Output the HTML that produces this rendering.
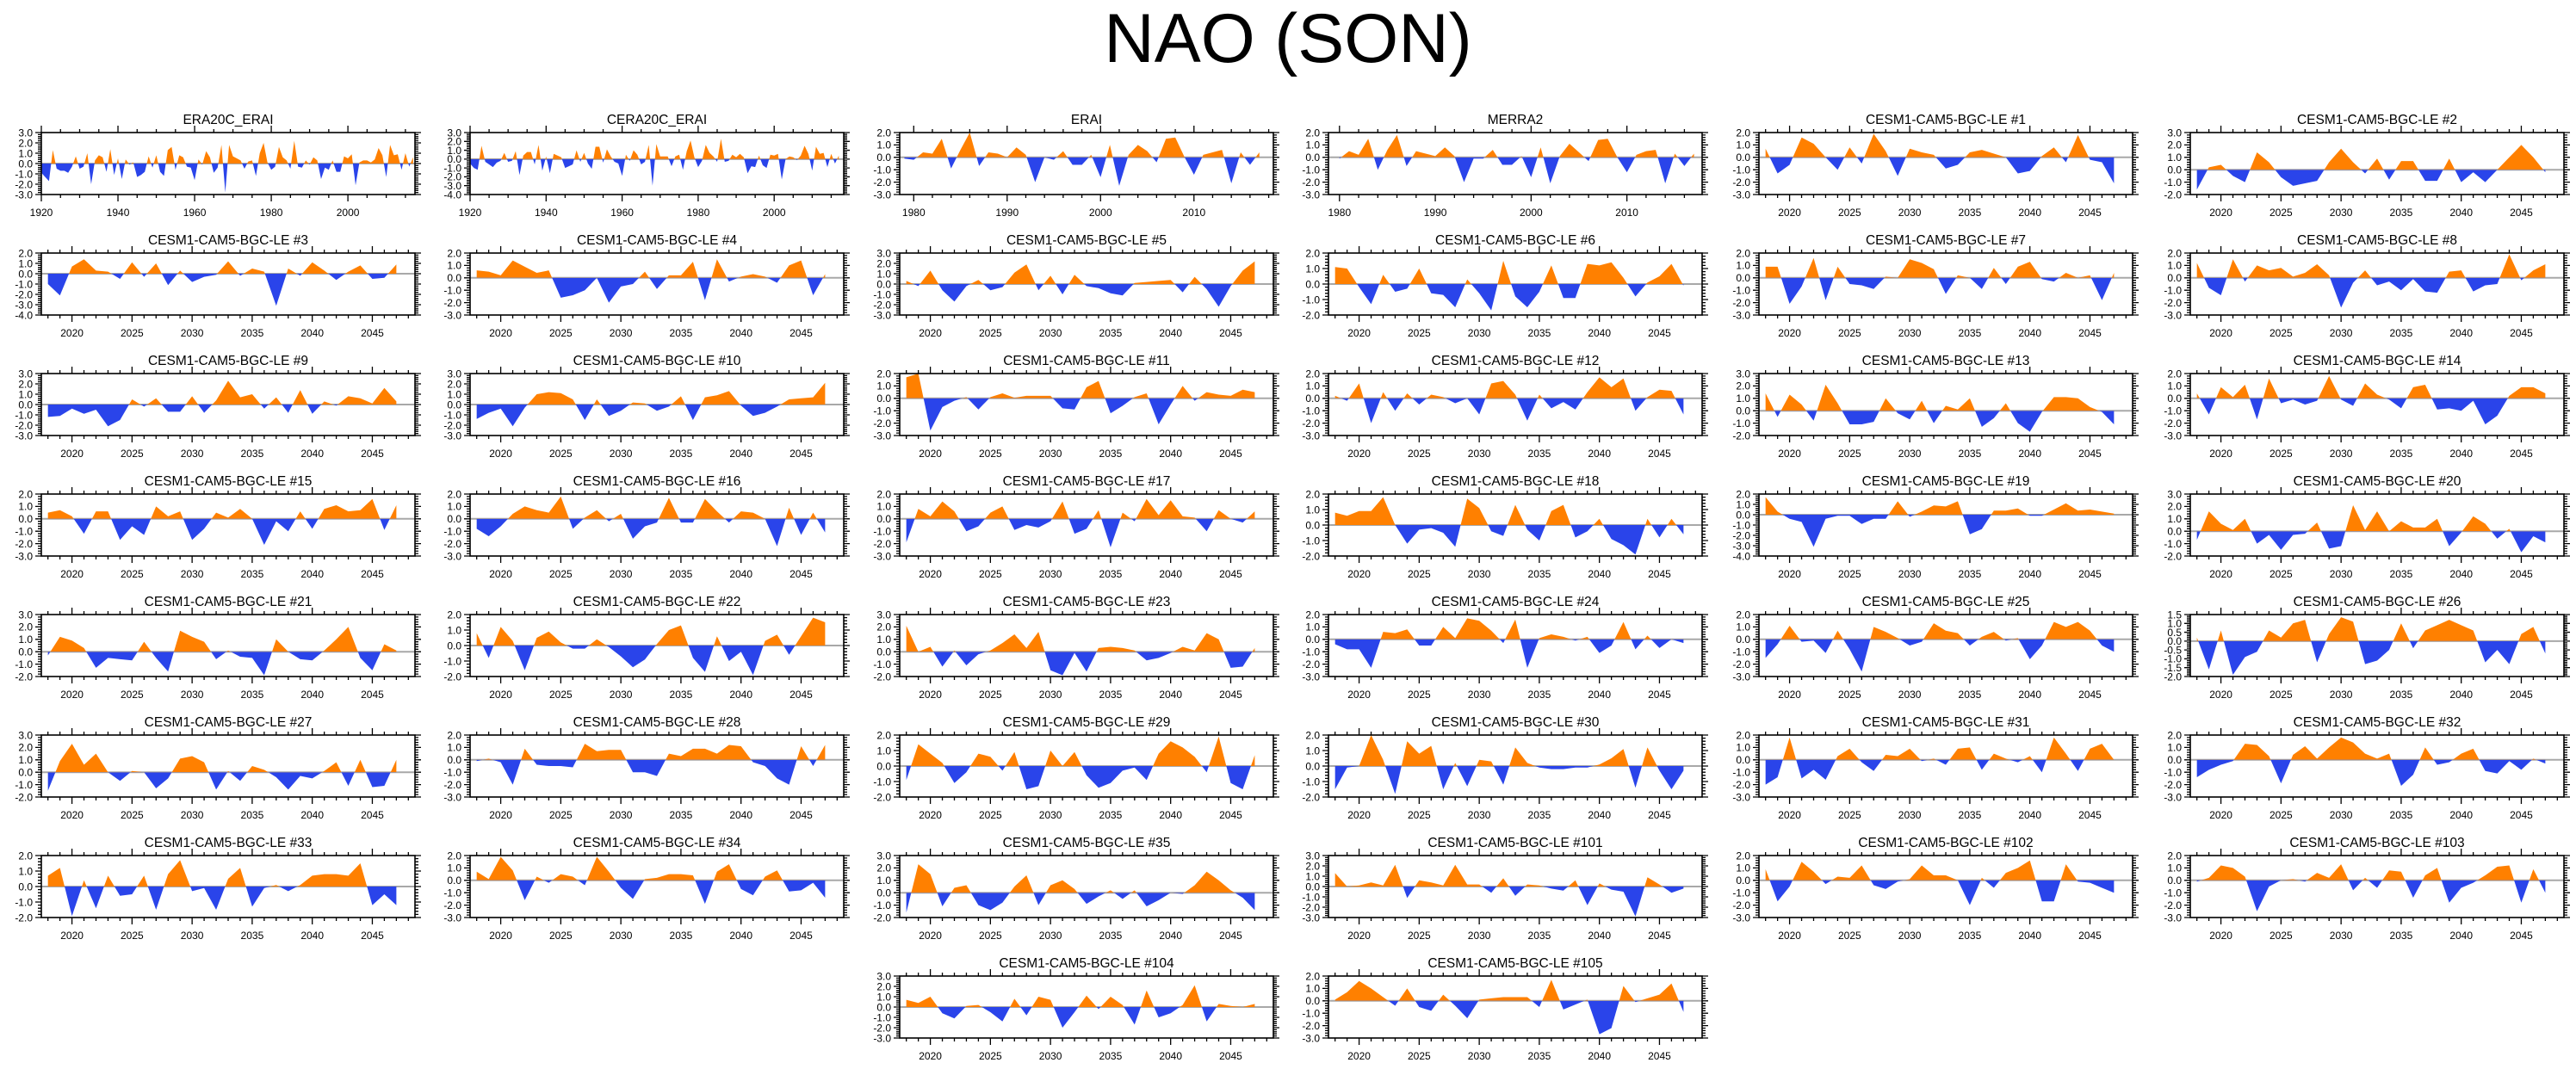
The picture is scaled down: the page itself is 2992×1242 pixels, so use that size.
<!DOCTYPE html>
<html><head><meta charset="utf-8"><title>NAO (SON)</title>
<style>
html,body{margin:0;padding:0;background:#fff;}
svg{display:block;font-family:"Liberation Sans",Arial,sans-serif;}
</style></head>
<body>
<svg id="chart" width="2992" height="1242" viewBox="0 0 2992 1242" xmlns="http://www.w3.org/2000/svg">
<rect x="0" y="0" width="2992" height="1242" fill="#fff"/>
<text x="1496" y="72" text-anchor="middle" font-size="81" fill="#000">NAO (SON)</text>
</svg>
<script>
const panelTitles = ["ERA20C_ERAI","CERA20C_ERAI","ERAI","MERRA2",
"CESM1-CAM5-BGC-LE #1","CESM1-CAM5-BGC-LE #2","CESM1-CAM5-BGC-LE #3","CESM1-CAM5-BGC-LE #4","CESM1-CAM5-BGC-LE #5","CESM1-CAM5-BGC-LE #6","CESM1-CAM5-BGC-LE #7","CESM1-CAM5-BGC-LE #8","CESM1-CAM5-BGC-LE #9","CESM1-CAM5-BGC-LE #10","CESM1-CAM5-BGC-LE #11","CESM1-CAM5-BGC-LE #12","CESM1-CAM5-BGC-LE #13","CESM1-CAM5-BGC-LE #14","CESM1-CAM5-BGC-LE #15","CESM1-CAM5-BGC-LE #16","CESM1-CAM5-BGC-LE #17","CESM1-CAM5-BGC-LE #18","CESM1-CAM5-BGC-LE #19","CESM1-CAM5-BGC-LE #20","CESM1-CAM5-BGC-LE #21","CESM1-CAM5-BGC-LE #22","CESM1-CAM5-BGC-LE #23","CESM1-CAM5-BGC-LE #24","CESM1-CAM5-BGC-LE #25","CESM1-CAM5-BGC-LE #26","CESM1-CAM5-BGC-LE #27","CESM1-CAM5-BGC-LE #28","CESM1-CAM5-BGC-LE #29","CESM1-CAM5-BGC-LE #30","CESM1-CAM5-BGC-LE #31","CESM1-CAM5-BGC-LE #32","CESM1-CAM5-BGC-LE #33","CESM1-CAM5-BGC-LE #34","CESM1-CAM5-BGC-LE #35","CESM1-CAM5-BGC-LE #101","CESM1-CAM5-BGC-LE #102","CESM1-CAM5-BGC-LE #103","CESM1-CAM5-BGC-LE #104","CESM1-CAM5-BGC-LE #105"];
const yMins = [-3,-4,-3,-3,-3,-2, -4,-3,-3,-2,-3,-3, -3,-3,-3,-3,-2,-3, -3,-3,-3,-2,-4,-2, -2,-2,-2,-3,-3,-2, -2,-3,-2,-2,-3,-3, -2,-3,-2,-3,-3,-3, -3,-3];
const yMaxs = [3,3,2,2,2,3, 2,2,3,2,2,2, 3,3,2,2,3,2, 2,2,2,2,2,3, 3,2,3,2,2,1.5, 3,2,2,2,2,2, 2,2,3,3,2,2, 3,2];
const startYears = [1920,1920,1979,1980];
const modelStartYear = 2018;

const sERA20C = [-0.9,-1.3,-1.7,1.3,-0.5,-0.7,-0.7,-0.9,-0.3,0.7,-0.5,-0.3,1.0,-2.0,0.3,0.8,0.6,-0.8,1.4,-1.1,0.5,-1.5,0.4,-0.1,0.1,-1.3,-1.1,-0.8,0.7,-0.4,0.8,-0.8,-1.2,1.3,1.6,-0.6,0.8,0.6,-0.3,-0.4,-1.6,0.4,-0.1,1.2,0.6,-0.9,-0.4,1.8,-2.8,1.8,0.7,0.5,0.3,-0.5,0.2,0.3,-1.2,1.0,2.0,0.1,-0.6,-0.3,1.6,0.6,0.3,-0.5,2.2,-0.3,-0.4,0.3,-0.1,0.6,0.3,-1.5,-0.4,-0.6,0.3,-0.8,-0.8,0.7,0.5,0.9,-2.1,0.1,0.3,0.3,0.1,0.4,1.5,0.8,-1.3,1.8,0.8,0.9,-0.6,1.0,-0.3,0.6];
const sCERA20C = [-0.5,-1.0,-1.2,1.5,-0.3,-0.6,-0.9,-0.4,-0.2,0.7,-0.3,-0.2,0.9,-1.8,0.4,0.8,0.8,-0.6,1.6,-1.3,0.3,-1.6,0.6,0.4,0.2,-1.0,-0.8,-0.6,1.0,-0.3,0.7,-0.5,-1.1,1.4,1.4,-0.4,1.1,0.3,-0.3,-0.5,-1.9,0.5,-0.2,1.0,0.5,-0.6,-0.3,1.6,-3.0,1.7,0.3,0.3,0.3,-0.8,0.3,0.5,-1.2,0.9,2.1,0.2,-0.9,-0.2,1.6,0.7,0.3,-0.3,2.3,-0.3,-0.2,0.5,0.2,0.6,0.2,-1.6,-0.8,-0.9,0.4,-0.7,-1.0,0.5,0.4,0.6,-2.3,0.0,0.3,0.2,-0.1,0.4,1.5,0.6,-1.3,1.4,0.6,0.7,-0.9,0.6,-0.5,0.4];
const sERAI = [-0.1,-0.2,0.4,0.3,1.5,-0.9,0.6,2.0,-0.7,0.4,0.3,0.0,0.8,0.2,-2.0,0.0,-0.2,0.5,-0.6,-0.6,0.2,-1.6,1.0,-2.3,0.2,1.0,0.5,-0.4,1.5,1.6,0.0,-1.4,0.2,0.4,0.6,-2.1,0.4,-0.6,0.4];
const sMERRA2 = [-0.1,0.5,0.2,1.5,-1.0,0.6,1.8,-0.7,0.5,0.3,0.1,0.8,0.1,-2.0,-0.1,-0.1,0.6,-0.6,-0.6,0.1,-1.6,0.8,-2.1,0.1,1.1,0.4,-0.3,1.4,1.5,0.0,-1.2,0.2,0.5,0.6,-2.1,0.3,-0.7,0.3];
const m01 = [0.7,-1.3,-0.6,1.6,1.1,0.0,-1.0,0.8,-0.5,1.9,0.5,-1.5,0.7,0.4,0.2,-0.9,-0.6,0.4,0.6,0.3,0.0,-1.3,-1.1,0.1,0.8,-0.4,1.8,-0.2,-0.4,-2.1];
const m02 = [-1.6,0.2,0.4,-0.5,-1.0,1.4,0.6,-0.6,-1.3,-1.1,-0.9,0.6,1.7,0.6,-0.3,0.9,-0.8,0.7,0.7,-0.9,-0.9,0.9,-1.0,-0.2,-1.0,0.0,1.0,2.0,1.0,-0.2];
const m03 = [-1.0,-2.1,0.7,1.4,0.3,0.2,-0.5,1.1,-0.3,1.0,-1.1,0.3,-0.8,-0.3,-0.1,1.2,-0.2,0.5,0.2,-3.1,0.5,-0.2,1.1,0.3,-0.6,0.2,0.8,-0.5,-0.4,0.9];
const m04 = [0.6,0.5,0.2,1.4,0.9,0.4,0.6,-1.6,-1.4,-1.0,0.0,-2.0,-0.7,-0.5,0.5,-0.9,0.2,0.2,1.3,-1.8,1.5,-0.3,0.1,0.3,0.1,-0.4,1.0,1.4,-1.4,0.3];
const m05 = [0.3,-0.2,1.3,-0.6,-1.7,-0.2,0.4,-0.6,-0.3,1.1,1.9,-0.6,0.8,-1.0,0.9,-0.2,-0.4,-0.9,-1.1,0.1,0.2,0.3,0.4,-0.8,0.7,-0.5,-2.2,-0.2,1.3,2.2];
const m06 = [1.1,1.0,-0.2,-1.3,0.6,-0.5,-0.3,1.0,-0.6,-0.7,-1.5,0.3,-0.6,-1.7,1.5,-0.8,-1.5,-0.5,1.2,-0.9,-0.9,1.3,1.2,1.4,0.4,-0.8,0.1,0.5,1.3,-0.1];
const m07 = [0.9,0.9,-2.1,-0.7,1.6,-1.8,0.9,-0.5,-0.6,-0.9,0.1,0.0,1.5,1.2,0.7,-1.3,0.2,0.0,-0.9,0.8,-0.5,0.9,1.3,-0.1,-0.3,0.4,0.0,0.2,-1.8,0.4];
const m08 = [1.2,-0.8,-1.4,1.5,-0.3,1.0,0.6,0.8,0.1,0.4,1.1,0.2,-2.4,-0.4,0.6,-0.6,-0.3,-1.0,-0.1,-1.1,-1.2,0.5,0.6,-1.1,-0.6,-0.5,1.9,-0.2,0.6,1.1];
const m09 = [-1.2,-1.1,-0.4,-0.9,-0.5,-2.1,-1.5,0.5,-0.2,0.6,-0.7,-0.7,0.8,-0.8,0.4,2.3,0.7,1.0,-0.4,0.7,-0.8,1.4,-0.9,0.3,-0.1,0.8,0.6,0.1,1.6,0.3];
const m10 = [-1.4,-0.8,-0.4,-2.1,-0.3,1.0,1.2,1.1,0.5,-1.5,0.5,-1.1,-0.6,0.2,0.1,-0.6,-0.2,0.8,-1.5,0.7,0.9,1.3,-0.1,-1.1,-0.8,-0.2,0.5,0.6,0.7,2.1];
const m11 = [1.7,2.0,-2.6,-0.7,-0.2,0.1,-0.9,0.1,0.4,0.05,0.2,0.2,0.2,-0.8,-0.9,0.9,1.4,-1.2,-0.6,0.1,0.4,-2.1,-0.5,1.0,-0.2,0.5,0.3,0.2,0.7,0.5];
const m12 = [0.2,-0.2,1.2,-2.0,0.5,-1.0,0.4,-0.5,0.3,0.1,-0.4,0.0,-1.3,1.2,1.4,0.3,-1.8,0.3,-0.8,-0.3,-0.9,0.5,1.7,0.9,1.6,-1.0,0.1,0.7,0.6,-1.3];
const m13 = [1.4,-0.5,1.3,0.5,-0.8,2.1,0.6,-1.1,-1.1,-0.9,1.0,-0.2,-0.7,0.8,-1.0,0.4,0.1,1.0,-1.3,-0.6,0.6,-1.0,-1.7,-0.1,1.1,1.1,1.0,0.3,-0.1,-1.1];
const m14 = [0.4,-1.3,0.9,0.1,1.1,-1.7,1.6,-0.4,-0.1,-0.5,-0.2,1.8,-0.1,-0.6,1.2,0.3,-0.1,-0.8,0.9,1.1,-0.9,-0.8,-1.0,-0.2,-2.1,-1.4,0.2,0.9,0.9,0.4];
const m15 = [0.5,0.7,0.2,-1.2,0.6,0.6,-1.7,-0.6,-1.3,1.0,0.2,0.6,-1.7,-0.8,0.5,0.1,0.8,0.0,-2.1,-0.2,-1.0,0.6,-0.8,0.8,1.1,0.6,0.7,1.6,-0.9,1.1];
const m16 = [-0.8,-1.4,-0.6,0.4,1.0,0.7,0.5,1.8,-0.8,0.1,0.7,-0.2,0.4,-1.6,-0.6,-0.3,1.7,-0.3,-0.3,1.6,0.6,-0.3,0.6,0.5,0.0,-2.2,0.9,-1.3,0.5,-1.1];
const m17 = [-1.9,0.8,0.2,1.4,0.6,-1.0,-0.6,0.5,1.0,-0.9,-0.5,-0.7,-0.2,1.4,-1.2,-0.8,0.7,-2.3,0.5,-0.2,1.6,0.3,1.5,0.2,0.1,-1.0,0.7,0.0,-0.3,0.6];
const m18 = [0.8,0.6,0.9,0.9,1.8,0.0,-1.2,-0.3,-0.2,-0.5,-1.4,1.7,1.1,-0.4,-0.7,1.3,-0.3,-1.0,0.9,1.3,-0.8,-0.4,0.4,-0.9,-1.3,-1.9,0.4,-0.8,0.4,-0.6];
const m19 = [1.7,0.3,-0.4,-0.7,-3.1,-0.4,-0.1,-0.1,-0.9,-0.4,-0.4,1.3,-0.2,0.3,0.9,0.8,1.3,-1.9,-1.4,0.4,0.4,0.6,-0.1,-0.1,0.5,1.1,0.4,0.5,0.3,0.1];
const m20 = [-0.7,1.6,0.6,0.1,1.0,-1.0,-0.3,-1.5,-0.3,-0.2,0.7,-1.4,-1.2,2.1,0.1,1.6,0.0,0.8,0.3,0.3,1.0,-1.2,-0.1,1.2,0.6,-0.6,0.2,-1.7,-0.4,-0.9];
const m21 = [-0.3,1.2,0.9,0.3,-1.3,-0.5,-0.6,-0.7,0.8,-0.5,-1.6,1.7,1.2,0.8,-0.6,0.1,-0.4,-0.5,-1.9,1.0,0.0,-0.6,-0.7,0.1,1.0,2.0,-0.5,-1.5,0.6,0.1];
const m22 = [0.8,-0.8,1.2,0.3,-1.6,0.5,0.9,0.2,-0.2,-0.2,0.4,-0.1,-0.7,-1.4,-0.9,0.1,1.0,1.3,-0.8,-1.7,0.6,-1.0,-0.4,-1.9,0.3,0.7,-0.6,0.6,1.8,1.5];
const m23 = [2.1,0.0,0.4,-1.2,0.1,-1.1,-0.2,0.1,0.7,1.4,0.3,1.6,-1.5,-1.9,-0.1,-1.6,0.3,0.4,0.3,0.1,-0.7,-0.5,-0.1,0.4,0.1,1.5,1.0,-1.3,-1.2,0.3];
const m24 = [-0.4,-0.8,-0.8,-2.3,0.6,0.5,0.8,-0.5,-0.5,1.0,0.1,1.7,1.5,0.7,-0.3,1.6,-2.3,0.1,0.4,0.2,-0.1,0.2,-1.1,-0.5,1.4,-0.8,0.3,-0.7,0.0,-0.3];
const m25 = [-1.5,-0.4,1.1,-0.2,-0.1,-1.1,0.7,-0.8,-2.6,1.0,0.6,0.1,-0.5,-0.2,1.3,0.7,0.5,-0.5,0.2,0.6,-0.1,0.1,-1.6,-0.5,1.4,1.0,1.4,0.7,-0.5,-1.0];
const m26 = [0.2,-1.6,0.6,-1.9,-0.9,-0.6,0.6,0.2,1.0,1.2,-1.2,0.4,1.35,1.1,-1.3,-1.1,-0.5,1.0,-0.4,0.6,0.9,1.2,0.9,0.6,-1.2,-0.5,-1.3,0.4,0.8,-0.7];
const m27 = [-1.5,0.9,2.3,0.6,1.5,0.0,-0.7,0.1,0.0,-1.3,-0.5,1.1,1.3,0.8,-1.4,0.1,-0.7,0.5,0.2,-0.4,-1.4,-0.3,-0.5,0.1,0.8,-1.1,1.0,-1.2,-1.1,1.0];
const m28 = [-0.1,0.1,-0.2,-2.0,0.9,-0.4,-0.5,-0.5,-0.6,1.3,0.7,0.8,0.8,-1.0,-1.0,-1.3,0.5,0.3,0.9,0.9,0.5,1.2,1.1,-0.2,-0.5,-1.5,-2.0,1.1,-0.5,1.2];
const m29 = [-0.9,1.4,0.8,0.2,-1.1,-0.4,0.8,0.6,-0.3,0.9,-1.5,-1.3,1.0,0.0,0.9,-0.6,-1.4,-1.1,-0.3,-0.1,-0.9,0.8,1.6,1.2,0.6,-0.4,1.9,-1.1,-1.5,0.7];
const m30 = [-1.5,-0.1,0.0,2.0,0.4,-1.8,1.6,0.8,1.3,-1.5,0.2,-1.3,0.4,0.3,-1.2,1.2,0.2,-0.1,-0.2,-0.2,-0.1,-0.1,0.1,0.5,1.1,-1.4,1.2,-0.3,-1.5,-0.3];
const m31 = [-2.0,-1.4,1.8,-1.5,-0.8,-1.6,0.3,0.9,-0.2,-0.9,0.4,0.3,0.9,-0.1,0.1,-0.4,0.9,1.0,-0.8,0.5,0.1,-0.2,0.3,-1.0,1.8,0.5,-0.9,0.9,1.3,0.0];
const m32 = [-1.4,-0.8,-0.4,-0.1,1.3,1.2,0.3,-1.9,0.4,1.1,0.1,1.0,1.8,1.4,0.5,0.1,0.5,-2.1,-1.2,1.0,-0.4,-0.2,0.5,0.9,-0.9,-1.1,-0.1,-0.8,0.1,-0.3];
const m33 = [0.7,1.2,-1.9,0.4,-1.4,0.7,-0.6,-0.5,0.7,-1.5,0.8,1.7,-0.3,-0.1,-1.5,0.5,1.2,-1.3,-0.1,0.1,-0.3,0.1,0.7,0.8,0.8,0.7,1.5,-1.2,-0.5,-1.2];
const m34 = [0.7,0.1,1.9,0.8,-1.6,0.3,-0.2,0.5,0.3,-0.4,1.9,0.7,-0.6,-1.5,0.1,0.2,0.5,0.5,0.4,-1.9,0.7,1.3,-0.7,-1.2,0.3,0.8,-0.9,-0.8,-0.2,-1.4];
const m35 = [-1.6,2.3,1.5,-1.1,0.4,0.6,-1.0,-1.4,-0.8,0.5,1.4,-1.0,0.6,1.0,0.3,-0.9,-0.3,0.2,-0.5,0.2,-1.1,-0.6,0.0,-0.1,0.6,1.7,1.0,0.2,-0.4,-1.4];
const m101 = [1.3,0.0,0.1,0.4,0.1,2.1,-1.1,0.6,0.4,0.1,2.1,0.2,0.2,-0.6,0.8,-0.9,0.2,0.1,-0.2,-0.4,0.6,-1.8,0.3,-0.3,-0.5,-2.9,0.9,0.2,-0.6,-0.2];
const m102 = [0.9,-1.7,-0.5,1.5,0.7,-0.3,0.3,0.2,1.2,-0.4,-0.7,-0.1,0.1,1.2,0.4,0.4,0.0,-2.0,0.2,-0.6,0.6,1.0,1.6,-1.7,-1.7,1.3,-0.1,-0.2,-0.6,-1.0];
const m103 = [-0.1,0.2,1.2,1.0,0.3,-2.5,-0.5,0.0,0.1,-0.1,0.6,0.2,1.3,-0.8,0.2,-0.6,0.8,0.7,-1.4,0.4,1.0,-1.8,-0.6,-0.2,0.4,1.1,1.2,-1.8,0.9,-1.0];
const m104 = [0.7,0.4,1.0,-0.6,-1.1,0.1,0.2,-0.5,-1.4,0.8,-0.8,1.0,0.7,-2.0,-0.5,1.1,-0.2,1.0,0.2,-1.7,1.6,-1.0,-0.6,0.2,2.1,-1.4,0.3,0.1,0.0,0.3];
const m105 = [0.1,0.7,1.6,1.0,0.3,-0.4,1.0,-0.5,-0.8,0.5,-0.4,-1.4,0.1,0.2,0.3,0.3,0.3,-0.5,1.7,-0.7,-0.3,0.1,-2.7,-2.2,1.2,-0.1,0.2,0.5,1.4,-0.9];

const allSeries = [sERA20C,sCERA20C,sERAI,sMERRA2,m01,m02,m03,m04,m05,m06,m07,m08,m09,m10,m11,m12,m13,m14,m15,m16,m17,m18,m19,m20,m21,m22,m23,m24,m25,m26,m27,m28,m29,m30,m31,m32,m33,m34,m35,m101,m102,m103,m104,m105];

const NS = "http://www.w3.org/2000/svg";
const svg = document.getElementById("chart");
const colLefts = [48, 546, 1045, 1543, 2043, 2544];
const boxW = 434, boxH = 72;
const ORANGE = "#ff8000", BLUE = "#2a44ea";

function mk(tag, attrs, parent) {
  const e = document.createElementNS(NS, tag);
  for (const k in attrs) e.setAttribute(k, attrs[k]);
  if (parent) parent.appendChild(e);
  return e;
}

function slug(t) { return t.toLowerCase().replace(/[^a-z0-9]+/g, "-").replace(/^-|-$/g, ""); }

function xConfig(i) {
  if (i === 0) return {min: 1920, max: 2017.5, major: 20, minor: 5, first: 1920, last: 2000};
  if (i === 1) return {min: 1920, max: 2018.3, major: 20, minor: 5, first: 1920, last: 2000};
  if (i === 2) return {min: 1978.5, max: 2018.5, major: 10, minor: 2, first: 1980, last: 2010};
  if (i === 3) return {min: 1978.85, max: 2017.85, major: 10, minor: 2, first: 1980, last: 2010};
  return {min: 2017.45, max: 2048.55, major: 5, minor: 1, first: 2020, last: 2045};
}

function drawPanel(i, col, row) {
  const L = colLefts[col], T = 154 + 140 * row;
  const xc = xConfig(i);
  const ymin = yMins[i], ymax = yMaxs[i];
  const ystep = (ymax % 1 !== 0 || ymin % 1 !== 0) ? 0.5 : 1;
  const sx = x => L + (x - xc.min) / (xc.max - xc.min) * boxW;
  const sy = v => T + (ymax - v) / (ymax - ymin) * boxH;
  const data = allSeries[i];
  const start = i < 4 ? startYears[i] : modelStartYear;
  const pslug = slug(panelTitles[i]);

  const g = mk("g", {}, svg);
  
  

  const title = mk("text", {x: L + boxW / 2, y: T - 10, "text-anchor": "middle", "font-size": "15.5", fill: "#000"}, g);
  title.textContent = panelTitles[i];
  
  

  const y0 = sy(0);
  // clip paths
  const defs = mk("defs", {}, g);
  const cpA = mk("clipPath", {id: "ca" + i}, defs);
  mk("rect", {x: L, y: T, width: boxW, height: y0 - T}, cpA);
  const cpB = mk("clipPath", {id: "cb" + i}, defs);
  mk("rect", {x: L, y: y0, width: boxW, height: T + boxH - y0}, cpB);

  // zero line
  const zl = mk("line", {x1: L, x2: L + boxW, y1: y0, y2: y0, stroke: "#a8a8a8", "stroke-width": "2"}, g);
  
  

  let d = "M" + sx(start).toFixed(2) + "," + y0.toFixed(2);
  for (let k = 0; k < data.length; k++) {
    d += " L" + sx(start + k).toFixed(2) + "," + sy(data[k]).toFixed(2);
  }
  d += " L" + sx(start + data.length - 1).toFixed(2) + "," + y0.toFixed(2) + " Z";
  const pos = mk("path", {d: d, fill: ORANGE, "clip-path": "url(#ca" + i + ")"}, g);
  
  
  const neg = mk("path", {d: d, fill: BLUE, "clip-path": "url(#cb" + i + ")"}, g);
  
  

  // ticks
  let tk = "";
  const B = T + boxH, R = L + boxW;
  for (let yr = Math.ceil(xc.min / xc.minor) * xc.minor; yr <= xc.max + 1e-6; yr += xc.minor) {
    const x = sx(yr);
    const len = (Math.abs(yr % xc.major) < 1e-6) ? 8 : 4;
    tk += "M" + x.toFixed(2) + "," + T + "v-" + len + "M" + x.toFixed(2) + "," + B + "v" + len;
  }
  const mstep = ystep / 5;
  const nM = Math.round((ymax - ymin) / mstep);
  for (let k = 0; k <= nM; k++) {
    const v = ymin + k * mstep;
    const y = sy(v);
    const len = (k % 5 === 0) ? 7 : 4;
    tk += "M" + L + "," + y.toFixed(2) + "h-" + len + "M" + R + "," + y.toFixed(2) + "h" + len;
  }
  const ticks = mk("path", {d: tk, stroke: "#000", "stroke-width": "1.3", fill: "none"}, g);
  
  

  const box = mk("rect", {x: L, y: T, width: boxW, height: boxH, fill: "none", stroke: "#000", "stroke-width": "1.6"}, g);
  
  

  // y labels
  const nY = Math.round((ymax - ymin) / ystep);
  for (let k = 0; k <= nY; k++) {
    const v = ymin + k * ystep;
    const t = mk("text", {x: L - 10, y: sy(v) + 4.3, "text-anchor": "end", "font-size": "12", fill: "#000"}, g);
    t.textContent = v.toFixed(1);
    
    
  }
  // x labels
  for (let yr = xc.first; yr <= xc.last; yr += xc.major) {
    const t = mk("text", {x: sx(yr), y: B + 25, "text-anchor": "middle", "font-size": "12", fill: "#000"}, g);
    t.textContent = String(yr);
    
    
  }
}

for (let i = 0; i < 42; i++) drawPanel(i, i % 6, Math.floor(i / 6));
drawPanel(42, 2, 7);
drawPanel(43, 3, 7);
</script>
</body></html>
